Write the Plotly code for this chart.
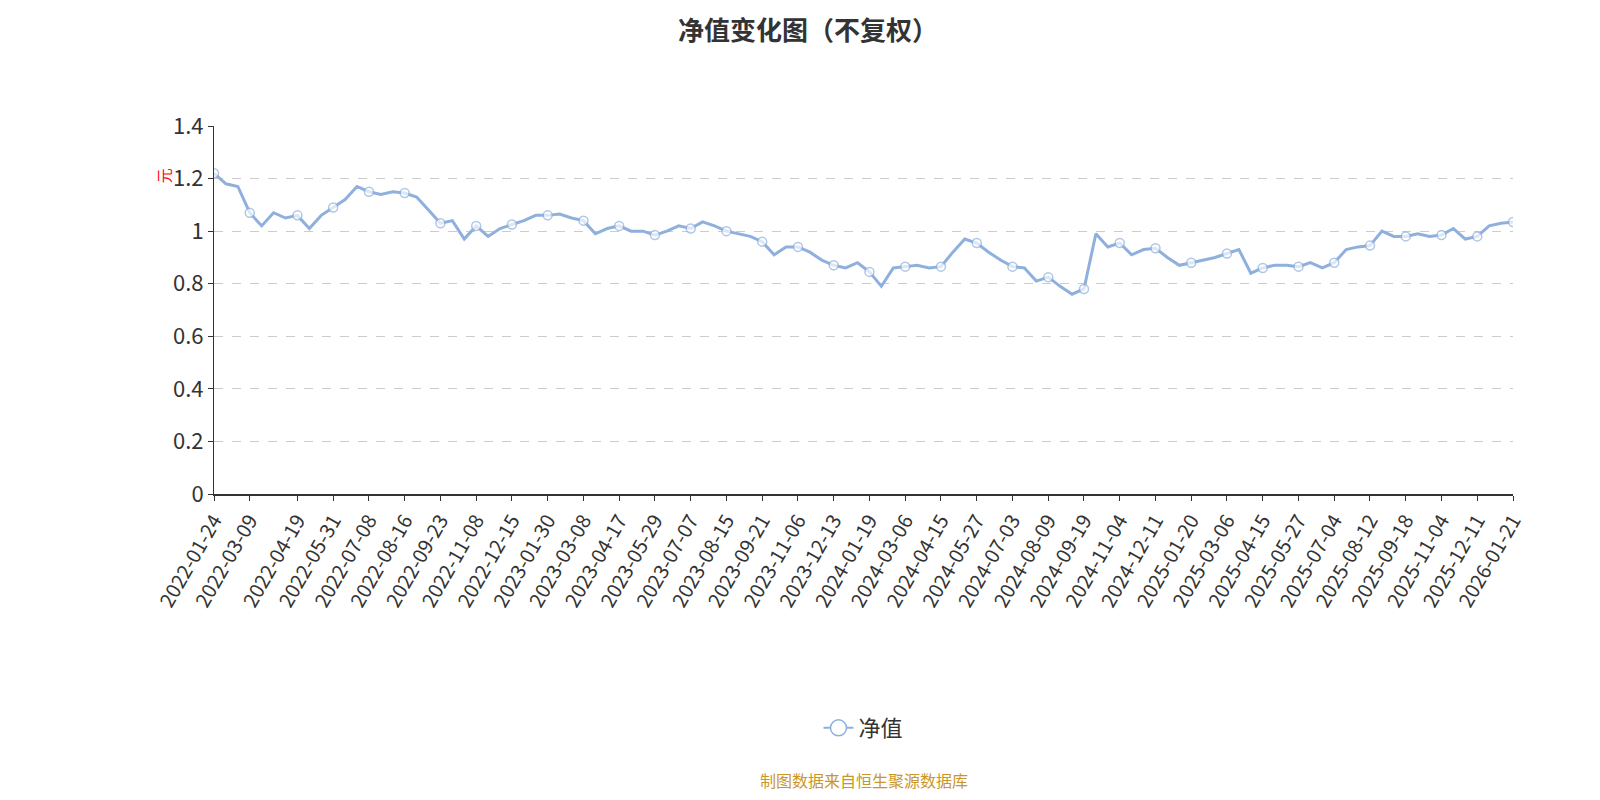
import plotly.graph_objects as go

dates = ["2022-01-24","2022-02-10","2022-02-24","2022-03-09","2022-03-16","2022-03-31","2022-04-08","2022-04-19","2022-04-27","2022-05-16","2022-05-31",
"2022-06-14","2022-06-27","2022-07-08","2022-07-22","2022-08-03","2022-08-16","2022-08-29","2022-09-09","2022-09-23","2022-10-17","2022-10-27","2022-11-08",
"2022-11-22","2022-12-02","2022-12-15","2022-12-29","2023-01-12","2023-01-30","2023-02-10","2023-02-23","2023-03-08","2023-03-21","2023-04-03","2023-04-17",
"2023-04-28","2023-05-15","2023-05-29","2023-06-09","2023-06-26","2023-07-07","2023-07-20","2023-08-02","2023-08-15","2023-08-28","2023-09-08","2023-09-21",
"2023-10-13","2023-10-24","2023-11-06","2023-11-17","2023-11-29","2023-12-13","2023-12-25","2024-01-05","2024-01-19","2024-02-05","2024-02-21",
"2024-03-06","2024-03-19","2024-04-01","2024-04-15","2024-04-29","2024-05-14","2024-05-27","2024-06-07","2024-06-20","2024-07-03","2024-07-16","2024-07-29",
"2024-08-09","2024-08-22","2024-09-04","2024-09-19","2024-09-30","2024-10-10","2024-11-04","2024-11-15","2024-11-27","2024-12-11",
"2024-12-23","2025-01-07","2025-01-20","2025-02-06","2025-02-20","2025-03-06","2025-03-19","2025-04-08","2025-04-15","2025-04-28","2025-05-13",
"2025-05-27","2025-06-10","2025-06-23","2025-07-04","2025-07-17","2025-07-30","2025-08-12","2025-08-25","2025-09-05","2025-09-18","2025-10-09","2025-10-22",
"2025-11-04","2025-11-17","2025-11-28","2025-12-11","2025-12-24","2026-01-08","2026-01-21"]
nav = [1.22,1.18,1.17,1.07,1.02,1.07,1.05,1.06,1.01,1.06,1.09,
1.12,1.17,1.15,1.14,1.15,1.145,1.13,1.08,1.03,1.04,0.97,1.02,
0.98,1.01,1.025,1.04,1.06,1.06,1.065,1.05,1.04,0.99,1.01,1.02,
1.00,1.00,0.985,1.00,1.02,1.01,1.035,1.02,1.00,0.99,0.98,0.96,
0.91,0.94,0.94,0.92,0.89,0.87,0.86,0.88,0.845,0.79,0.86,
0.865,0.87,0.86,0.865,0.92,0.97,0.955,0.92,0.89,0.865,0.86,0.81,
0.825,0.79,0.76,0.78,0.99,0.94,0.955,0.91,0.93,0.935,
0.90,0.87,0.88,0.89,0.90,0.915,0.93,0.84,0.86,0.87,0.87,
0.865,0.88,0.86,0.88,0.93,0.94,0.945,1.00,0.98,0.98,0.99,0.98,
0.985,1.01,0.97,0.98,1.02,1.03,1.035]
tick_labels = ["2022-01-24","2022-03-09","2022-04-19","2022-05-31","2022-07-08","2022-08-16","2022-09-23","2022-11-08","2022-12-15",
"2023-01-30","2023-03-08","2023-04-17","2023-05-29","2023-07-07","2023-08-15","2023-09-21","2023-11-06","2023-12-13",
"2024-01-19","2024-03-06","2024-04-15","2024-05-27","2024-07-03","2024-08-09","2024-09-19","2024-11-04","2024-12-11",
"2025-01-20","2025-03-06","2025-04-15","2025-05-27","2025-07-04","2025-08-12","2025-09-18","2025-11-04","2025-12-11","2026-01-21"]

color = "#8fb0dd"
sizes = [9 if d in tick_labels else 0 for d in dates]
font = "Noto Sans CJK SC"

fig = go.Figure()
fig.add_trace(go.Scatter(x=dates, y=nav, mode="lines+markers", name="净值", showlegend=False,
    line=dict(color=color, width=3),
    marker=dict(size=sizes, color="white", line=dict(color=color, width=1.5))))
fig.add_trace(go.Scatter(x=[None], y=[None], mode="lines+markers", name="净值",
    line=dict(color=color, width=2),
    marker=dict(size=18, color="white", line=dict(color=color, width=1.5))))
fig.update_layout(
    width=1600, height=800, paper_bgcolor="white", plot_bgcolor="white",
    font=dict(family=font, color="#333"),
    margin=dict(l=206, r=95, t=118, b=314),
    title=dict(text="<b>净值变化图（不复权）</b>", x=0.5, xanchor="center", y=0.972, yanchor="middle", font=dict(size=26, color="#333")),
    showlegend=True,
    legend=dict(orientation="h", x=0.5, xanchor="center", y=-0.636, yanchor="middle", font=dict(size=22)),
    xaxis=dict(type="category", tickmode="array", tickvals=tick_labels, ticktext=tick_labels,
               tickangle=-60, tickfont=dict(size=20), showline=True, linecolor="#333", linewidth=2,
               ticks="outside", ticklen=5, tickcolor="#333", showgrid=False, range=[0, len(dates)-1]),
    yaxis=dict(range=[0, 1.4], dtick=0.2, tickfont=dict(size=22), showline=True, linecolor="#333", linewidth=1,
               ticks="outside", ticklen=5, tickcolor="#333", showgrid=True, gridcolor="#cccccc", griddash="dash",
               zeroline=False, tickformat="~g"),
    annotations=[
        dict(text="元", textangle=-90, x=-0.048, y=0.89, xref="paper", yref="paper", showarrow=False, font=dict(size=15, color="red")),
        dict(text="制图数据来自恒生聚源数据库", x=0.5, xanchor="center", y=-0.777, xref="paper", yref="paper", yanchor="middle",
             showarrow=False, font=dict(size=16, color="#c8962a")),
    ],
)
fig.write_html("out.html")
